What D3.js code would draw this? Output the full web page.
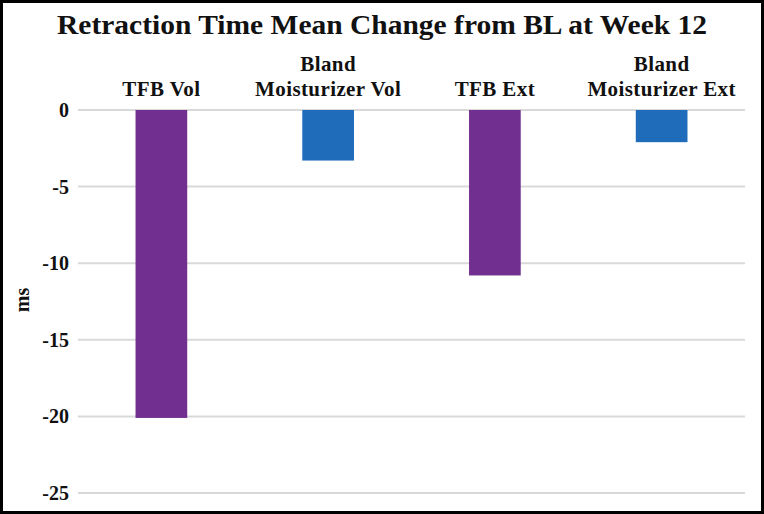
<!DOCTYPE html>
<html><head><meta charset="utf-8">
<script src="https://cdn.jsdelivr.net/npm/d3@7"></script>
<style>html,body{margin:0;padding:0;background:#fff;}svg{display:block;}</style>
</head><body>
<svg id="chart" width="764" height="514"></svg>
<script>
const categories = [["TFB Vol"], ["Bland", "Moisturizer Vol"], ["TFB Ext"], ["Bland", "Moisturizer Ext"]];
const values = [-20.1, -3.3, -10.8, -2.1];
const barColors = ["#71308f", "#1f6dba", "#71308f", "#1f6dba"];
const yTicks = [0, -5, -10, -15, -20, -25];
const title = "Retraction Time Mean Change from BL at Week 12";
const yLabel = "ms";

(function() {
const svg = d3.select("#chart");
const W = 764, H = 514;
const font = "'Liberation Serif', 'Times New Roman', serif";

svg.append("rect").attr("x", 1.5).attr("y", 1.5).attr("width", W - 3).attr("height", H - 3)
  .attr("fill", "#fff").attr("stroke", "#000").attr("stroke-width", 3);

const mLeft = 78, mRight = 745, mTop = 110, mBottom = 493;
const x = d3.scaleBand().domain(d3.range(categories.length)).range([mLeft, mRight]).paddingInner(0.69).paddingOuter(0.345);
const y = d3.scaleLinear().domain([0, -25]).range([mTop, mBottom]);

svg.append("g").selectAll("line").data(yTicks).join("line")
  .attr("x1", mLeft).attr("x2", mRight)
  .attr("y1", d => y(d)).attr("y2", d => y(d))
  .attr("stroke", "#d9d9d9").attr("stroke-width", 2);

const yAxis = d3.axisLeft(y).tickValues(yTicks).tickSize(0).tickPadding(8).tickFormat(d => String(d));
const gy = svg.append("g").attr("transform", `translate(${mLeft - 1},0)`).call(yAxis);
gy.select(".domain").remove();
gy.selectAll("text").attr("font-family", font).attr("font-weight", "bold").attr("font-size", 20).attr("fill", "#111");

svg.append("g").selectAll("rect").data(values).join("rect")
  .attr("x", (d, i) => x(i)).attr("width", x.bandwidth())
  .attr("y", d => y(Math.max(0, d))).attr("height", d => Math.abs(y(d) - y(0)))
  .attr("fill", (d, i) => barColors[i]);

const cat = svg.append("g").selectAll("text").data(categories).join("text")
  .attr("x", (d, i) => x(i) + x.bandwidth() / 2)
  .attr("text-anchor", "middle").attr("font-family", font).attr("font-weight", "bold").attr("font-size", 21)
  .attr("letter-spacing", 0.4).attr("fill", "#111");
cat.each(function(d) {
  const t = d3.select(this);
  d.forEach((line, j) => {
    t.append("tspan").attr("x", t.attr("x")).attr("y", 96 - (d.length - 1 - j) * 25).text(line);
  });
});

svg.append("text").attr("x", 382).attr("y", 34).attr("text-anchor", "middle")
  .attr("font-family", font).attr("font-weight", "bold").attr("font-size", 28).attr("fill", "#111")
  .attr("textLength", 650).attr("lengthAdjust", "spacingAndGlyphs").text(title);

svg.append("text").attr("transform", "translate(29,300) rotate(-90)").attr("text-anchor", "middle")
  .attr("font-family", font).attr("font-weight", "bold").attr("font-size", 20).attr("fill", "#111").text(yLabel);
})();
</script>
</body></html>
